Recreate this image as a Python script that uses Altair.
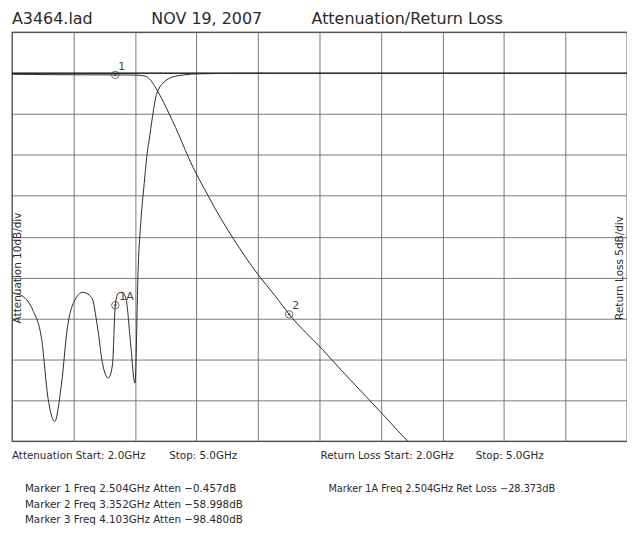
import altair as alt
import pandas as pd

# ---- data ----
att_freq = [2.000, 2.100, 2.200, 2.300, 2.400, 2.504, 2.580, 2.620, 2.653, 2.677, 2.701, 2.717,
            2.742, 2.766, 2.798, 2.830, 2.863, 2.903, 2.960, 3.018, 3.081, 3.139, 3.202,
            3.284, 3.352, 3.509, 3.622, 3.735, 3.808, 3.881, 3.945, 4.103]
att_db = [-0.30, -0.35, -0.40, -0.42, -0.44, -0.457, -0.48, -0.55, -0.8, -1.8, -3.6, -5.0,
          -7.4, -9.9, -13.3, -17.0, -20.9, -25.0, -30.3, -35.5, -40.6, -45.0, -49.4,
          -54.5, -58.998, -67.3, -73.5, -79.5, -83.4, -87.4, -90.8, -98.48]

rl_freq = [2.000, 2.010, 2.053, 2.102, 2.145, 2.175, 2.208, 2.242, 2.271, 2.315, 2.344, 2.388,
           2.417, 2.441, 2.470, 2.490, 2.504, 2.519, 2.538, 2.557, 2.577, 2.600, 2.616,
           2.629, 2.645, 2.661, 2.669, 2.685, 2.701, 2.717, 2.742, 2.782, 2.847, 2.902,
           3.000, 3.100, 3.250]
rl_db = [-26.8, -26.9, -27.3, -29.0, -32.6, -39.6, -42.6, -37.9, -31.0, -27.4, -26.8, -27.4,
         -31.0, -35.4, -37.3, -35.7, -28.373, -26.9, -26.8, -27.7, -32.6, -37.9, -23.5,
         -18.0, -13.5, -9.5, -8.2, -5.4, -3.0, -1.9, -1.1, -0.5, -0.2, -0.1,
         -0.06, -0.05, -0.05]

att_marker_freq = [2.504, 3.352, 4.103]
att_marker_db = [-0.457, -58.998, -98.480]
att_marker_name = ["1", "2", "3"]
rl_marker_freq = [2.504]
rl_marker_db = [-28.373]
rl_marker_name = ["1A"]

grid_freq = [2.0, 2.3, 2.6, 2.9, 3.2, 3.5, 3.8, 4.1, 4.4, 4.7, 5.0]
grid_att = [10, 0, -10, -20, -30, -40, -50, -60, -70, -80, -90]

title_texts = ["A3464.lad", "NOV 19, 2007", "Attenuation/Return Loss"]
range_texts = ["Attenuation Start: 2.0GHz", "Stop: 5.0GHz",
               "Return Loss Start: 2.0GHz", "Stop: 5.0GHz"]
marker_texts = ["Marker 1 Freq 2.504GHz Atten \u22120.457dB",
                "Marker 2 Freq 3.352GHz Atten \u221258.998dB",
                "Marker 3 Freq 4.103GHz Atten \u221298.480dB",
                "Marker 1A Freq 2.504GHz Ret Loss \u221228.373dB"]
axis_texts = ["Attenuation 10dB/div", "Return Loss 5dB/div"]

# ---- chart ----
W, H = 618, 411
FONT = "DejaVu Sans"
INK = "#2a2a2a"

att_df = pd.DataFrame({"f": att_freq, "a": att_db})
rl_df = pd.DataFrame({"f": rl_freq, "r": rl_db})
am_df = pd.DataFrame({"f": att_marker_freq, "a": att_marker_db, "n": att_marker_name})
rm_df = pd.DataFrame({"f": rl_marker_freq, "r": rl_marker_db, "n": rl_marker_name})

xs = alt.Scale(domain=[2.0, 5.0], nice=False, zero=False)
att_s = alt.Scale(domain=[-90, 10], nice=False, zero=False)
rl_s = alt.Scale(domain=[-45, 5], nice=False, zero=False)

gx = alt.Axis(values=grid_freq, grid=True, labels=False, ticks=False, domain=False,
              title=None, gridColor="#6a6a6a", gridWidth=0.9)
gy = alt.Axis(values=grid_att, grid=True, labels=False, ticks=False, domain=False,
              title=None, gridColor="#6a6a6a", gridWidth=0.9)


def X():
    return alt.X("f:Q", scale=xs, axis=gx)


att_line = alt.Chart(att_df).mark_line(clip=True, color=INK, strokeWidth=1,
                                       interpolate="monotone").encode(
    x=X(), y=alt.Y("a:Q", scale=att_s, axis=gy))

ref_line = alt.Chart(pd.DataFrame({"a": [0]})).mark_rule(color="#111", strokeWidth=1.2).encode(
    y=alt.Y("a:Q", scale=att_s, axis=None))

rl_line = alt.Chart(rl_df).mark_line(clip=True, color=INK, strokeWidth=1,
                                     interpolate="monotone").encode(
    x=X(), y=alt.Y("r:Q", scale=rl_s, axis=None))

am_ring = alt.Chart(am_df).mark_point(clip=True, shape="circle", size=55, filled=False,
                                      color=INK, strokeWidth=1).encode(
    x=X(), y=alt.Y("a:Q", scale=att_s, axis=None))
am_dot = alt.Chart(am_df).mark_point(clip=True, shape="circle", size=6, filled=True,
                                     color=INK).encode(
    x=X(), y=alt.Y("a:Q", scale=att_s, axis=None))
am_lab = alt.Chart(am_df).mark_text(clip=True, align="left", baseline="bottom", dx=3, dy=-3,
                                    font=FONT, fontSize=11, color="#444").encode(
    x=X(), y=alt.Y("a:Q", scale=att_s, axis=None), text="n:N")

rm_ring = alt.Chart(rm_df).mark_point(shape="circle", size=55, filled=False,
                                      color=INK, strokeWidth=1).encode(
    x=X(), y=alt.Y("r:Q", scale=rl_s, axis=None))
rm_dot = alt.Chart(rm_df).mark_point(shape="circle", size=6, filled=True, color=INK).encode(
    x=X(), y=alt.Y("r:Q", scale=rl_s, axis=None))
rm_lab = alt.Chart(rm_df).mark_text(align="left", baseline="bottom", dx=4, dy=-3,
                                    font=FONT, fontSize=11, color="#444").encode(
    x=X(), y=alt.Y("r:Q", scale=rl_s, axis=None), text="n:N")


def label(s, x, y, size=10.4, angle=0, align="left", baseline="middle"):
    kw = dict(align=align, baseline=baseline, font=FONT, fontSize=size, color=INK)
    if angle:
        kw["angle"] = angle
    return alt.Chart(pd.DataFrame({"t": [s]})).mark_text(**kw).encode(
        x=alt.value(x), y=alt.value(y), text="t:N")


texts = [
    label(title_texts[0], 0, -8, 16, baseline="alphabetic"),
    label(title_texts[1], 140, -8, 16, baseline="alphabetic"),
    label(title_texts[2], 301, -8, 16, baseline="alphabetic"),
    label(range_texts[0], 0, 426),
    label(range_texts[1], 158, 426),
    label(range_texts[2], 310, 426),
    label(range_texts[3], 466, 426),
    label(marker_texts[0], 13, 459),
    label(marker_texts[1], 13, 475),
    label(marker_texts[2], 13, 490),
    label(marker_texts[3], 318, 459, 9.8),
    label(axis_texts[0], 6, 237, 10.5, angle=270, align="center"),
    label(axis_texts[1], 611, 237, 10.5, angle=270, align="center"),
]

chart = alt.layer(
    att_line, ref_line, rl_line, am_ring, am_dot, am_lab, rm_ring, rm_dot, rm_lab, *texts
).resolve_scale(y="independent").properties(
    width=W, height=H, autosize="none",
    padding={"left": 4, "top": 23, "right": 0, "bottom": 85},
    background="white",
).configure_view(stroke="black", strokeWidth=1.2)

chart.save("out.html", embed_options={"renderer": "svg", "actions": False})
